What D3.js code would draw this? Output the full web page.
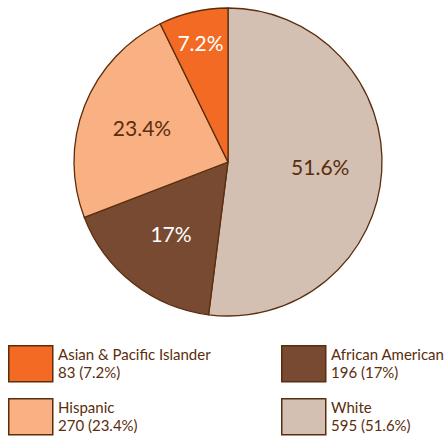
<!DOCTYPE html>
<html>
<head>
<meta charset="utf-8">
<script src="https://cdn.jsdelivr.net/npm/d3@7"></script>
<style>
  body { margin: 0; background: #fff; }
  svg { display: block; font-family: "Lato", "Open Sans", sans-serif; }
</style>
</head>
<body>
<svg id="chart" width="448" height="436"></svg>
<script>
"use strict";

// slices, clockwise from 12 o'clock
var groups  = ["White", "African American", "Hispanic", "Asian & Pacific Islander"];
var counts  = [595, 196, 270, 83];
var percent = ["51.6%", "17%", "23.4%", "7.2%"];
var colors  = ["#d3c0b3", "#784a31", "#f9b083", "#f26a24"];
var labelInk = ["#5a2d0c", "#ffffff", "#5a2d0c", "#ffffff"];

// legend reading order (row by row)
var legendOrder = [3, 1, 2, 0];

var ink = "#5a2d0c";
var svg = d3.select("#chart");

var cx = 228, cy = 162, R = 154;

var slices = groups.map((g, i) => ({name: g, value: counts[i], pct: percent[i], color: colors[i], lab: labelInk[i]}));

var pie = d3.pie().sort(null).value(d => d.value);
var arc = d3.arc().innerRadius(0).outerRadius(R);

var g = svg.append("g").attr("transform", `translate(${cx},${cy})`);
var arcs = pie(slices);

g.selectAll("path")
  .data(arcs)
  .enter()
  .append("path")
  .attr("d", arc)
  .attr("fill", d => d.data.color)
  .attr("stroke", ink)
  .attr("stroke-width", 1.3)
  .attr("stroke-linejoin", "round");

// small slices get their label nearer the rim
g.selectAll("text")
  .data(arcs)
  .enter()
  .append("text")
  .attr("transform", d => {
    let frac = (d.endAngle - d.startAngle) / (2 * Math.PI);
    let r = frac < 0.1 ? R * 0.79 : R * 0.6;
    let a = (d.startAngle + d.endAngle) / 2;
    return `translate(${r * Math.sin(a)},${-r * Math.cos(a)})`;
  })
  .attr("text-anchor", "middle")
  .attr("dy", "0.36em")
  .attr("fill", d => d.data.lab)
  .style("font-size", "21px")
  .text(d => d.data.pct);

// legend
var col = d3.scaleOrdinal().domain([0, 1]).range([8, 281]);
var row = d3.scaleOrdinal().domain([0, 1]).range([345, 398]);

var items = svg.append("g")
  .selectAll("g")
  .data(legendOrder.map(i => slices[i]))
  .enter()
  .append("g")
  .attr("transform", (d, i) => `translate(${col(i % 2)},${row(Math.floor(i / 2))})`);

items.append("rect")
  .attr("x", 0.75).attr("y", 0.75)
  .attr("width", 44).attr("height", 36)
  .attr("fill", d => d.color)
  .attr("stroke", ink)
  .attr("stroke-width", 1.5);

items.append("text")
  .attr("x", 50).attr("y", 15)
  .attr("fill", ink)
  .style("font-size", "15px")
  .text(d => d.name);

items.append("text")
  .attr("x", 50).attr("y", 33)
  .attr("fill", ink)
  .style("font-size", "15px")
  .text(d => `${d.value} (${d.pct})`);
</script>
</body>
</html>
